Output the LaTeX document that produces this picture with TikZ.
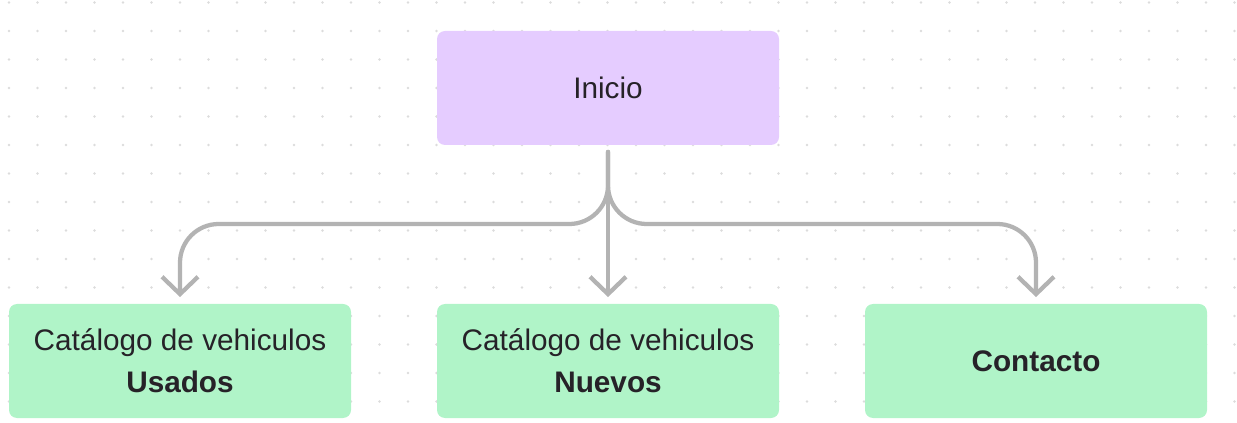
\documentclass[tikz,border=0pt]{standalone}
\usepackage{fontspec}
\setmainfont{Liberation Sans}
\usetikzlibrary{arrows.meta}
\definecolor{lilac}{HTML}{E5CCFF}
\definecolor{mint}{HTML}{B0F4C8}
\definecolor{ink}{HTML}{262228}
\definecolor{wire}{HTML}{B3B3B3}
\definecolor{dotgray}{HTML}{DCDCDC}

\begin{document}
\begin{tikzpicture}[x=0.75pt, y=-0.75pt,
  every node/.style={font=\fontsize{22.3}{31.5}\selectfont, text=ink},
  page/.style={rounded corners=6pt, minimum width=256.5pt, minimum height=85.5pt, align=center, inner sep=0pt},
  link/.style={draw=wire, line width=3.2pt, line cap=round, rounded corners=29pt,
    -{Straight Barb[length=13pt, width=27pt, line width=3.2pt]}, shorten <=5pt, shorten >=5pt}]
  \useasboundingbox (0,0) rectangle (1237,423);
  \foreach \i in {0,...,43} \foreach \j in {0,...,14}
    \fill[dotgray] (9+28.5*\i, 2.5+28.5*\j) circle (1.1pt);
  \node[page, fill=lilac] (inicio) at (608,88) {Inicio};
  \node[page, fill=mint] (usados) at (180,361) {Catálogo de vehiculos\\\textbf{Usados}};
  \node[page, fill=mint] (nuevos) at (608,361) {Catálogo de vehiculos\\\textbf{Nuevos}};
  \node[page, fill=mint] (contacto) at (1036,361) {\textbf{Contacto}};
  \coordinate (hub) at (608,224);
  \draw[link] (inicio.south) |- (usados.north |- hub) -- (usados.north);
  \draw[link] (inicio.south) -- (nuevos.north);
  \draw[link] (inicio.south) |- (contacto.north |- hub) -- (contacto.north);
\end{tikzpicture}
\end{document}
